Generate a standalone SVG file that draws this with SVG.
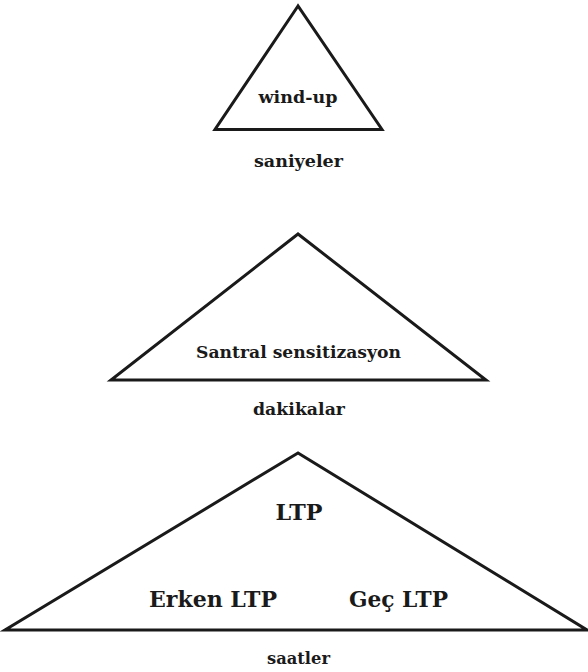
<svg xmlns="http://www.w3.org/2000/svg" width="588" height="672" viewBox="0 0 588 672">
<style>
.tri{fill:none;stroke:#1a1a1a;stroke-width:3;stroke-linejoin:miter}
text{font-family:"DejaVu Serif","Liberation Serif",serif;font-weight:bold;fill:#1a1a1a;text-anchor:middle}
.s{font-size:17px}
.l{font-size:23px}
</style>
<rect width="588" height="672" fill="#fff"/>
<g id="windup">
<polygon class="tri" points="298,6 215,129.5 382,129.5"/>
<text class="s" x="298" y="103" textLength="79" lengthAdjust="spacingAndGlyphs">wind-up</text>
<text class="s" x="298.5" y="167" textLength="89" lengthAdjust="spacingAndGlyphs">saniyeler</text>
</g>
<g id="santral">
<polygon class="tri" points="298,234 111,380 486,380"/>
<text class="s" x="298.5" y="358" textLength="205" lengthAdjust="spacingAndGlyphs">Santral sensitizasyon</text>
<text class="s" x="299" y="415" textLength="92" lengthAdjust="spacingAndGlyphs">dakikalar</text>
</g>
<g id="ltp">
<polygon class="tri" points="298,453 5,630 587,630"/>
<text class="l" x="299" y="520" textLength="47" lengthAdjust="spacingAndGlyphs">LTP</text>
<text class="l" x="213" y="607" textLength="128" lengthAdjust="spacingAndGlyphs">Erken LTP</text>
<text class="l" x="398.5" y="607" textLength="99" lengthAdjust="spacingAndGlyphs">Geç LTP</text>
<text class="s" x="298.5" y="664" textLength="63" lengthAdjust="spacingAndGlyphs">saatler</text>
</g>
<g id="connectors"/>
</svg>
